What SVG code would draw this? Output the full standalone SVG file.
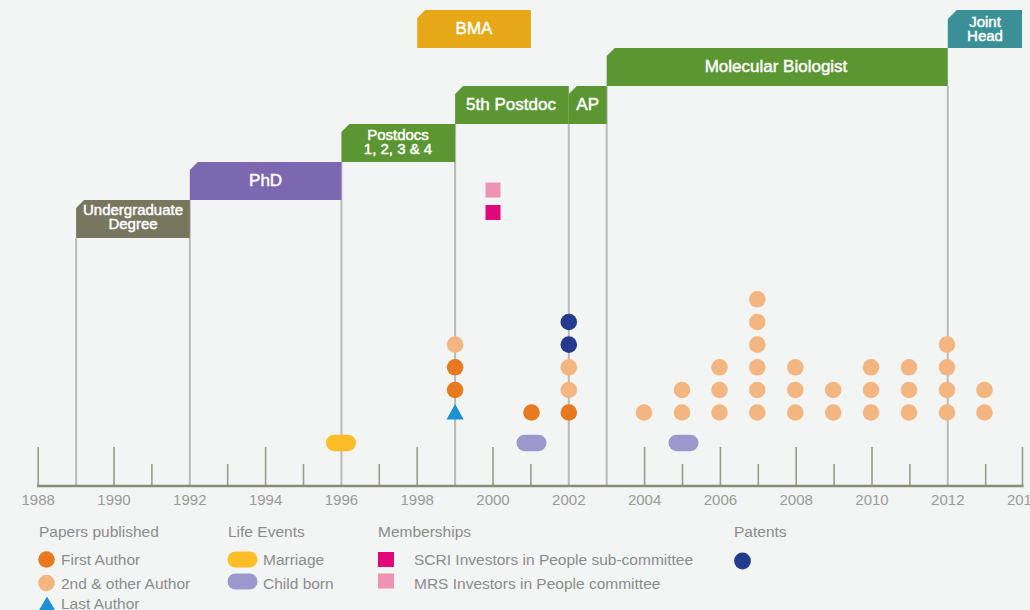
<svg xmlns="http://www.w3.org/2000/svg" width="1030" height="610" viewBox="0 0 1030 610">
<style>
.bg{fill:#f3f4f4}
.bar-t{font-family:"Liberation Sans",Arial,sans-serif;font-size:17px;fill:#ffffff;stroke:#ffffff;stroke-width:0.45;text-anchor:middle}
.bar-t2{font-family:"Liberation Sans",Arial,sans-serif;font-size:15px;fill:#ffffff;stroke:#ffffff;stroke-width:0.45;text-anchor:middle}
.vl{stroke:#b9bbb6;stroke-width:2;fill:none}
.tk{stroke:#9c9c8a;stroke-width:1.6;fill:none}
.axis{stroke:#8a8a76;stroke-width:2.5;fill:none}
.yr{font-family:"Liberation Sans",Arial,sans-serif;font-size:15px;fill:#9a9a9a;text-anchor:middle}
.lg{font-family:"Liberation Sans",Arial,sans-serif;font-size:15.5px;fill:#8c8c8c}
.fa{fill:#e8791f}
.oa{fill:#f4b680}
.pt{fill:#233b8f}
.la{fill:#1b92d4}
.mar{fill:#fdbd27}
.chi{fill:#9b99cc}
.scri{fill:#e0077a}
.mrs{fill:#ee93b4}
</style>
<rect class="bg" x="0" y="0" width="1030" height="610"/>

<g id="connectors">
<line class="vl" x1="76.1" y1="238" x2="76.1" y2="486"/>
<line class="vl" x1="189.8" y1="200" x2="189.8" y2="486"/>
<line class="vl" x1="341.4" y1="162" x2="341.4" y2="486"/>
<line class="vl" x1="455.1" y1="124" x2="455.1" y2="486"/>
<line class="vl" x1="568.8" y1="124" x2="568.8" y2="486"/>
<line class="vl" x1="606.7" y1="86" x2="606.7" y2="486"/>
<line class="vl" x1="947.8" y1="86" x2="947.8" y2="486"/>
</g>

<g id="axis">
<line class="tk" x1="38.2" y1="447" x2="38.2" y2="486"/>
<line class="tk" x1="114.0" y1="447" x2="114.0" y2="486"/>
<line class="tk" x1="151.9" y1="464" x2="151.9" y2="486"/>
<line class="tk" x1="227.7" y1="464" x2="227.7" y2="486"/>
<line class="tk" x1="265.6" y1="447" x2="265.6" y2="486"/>
<line class="tk" x1="303.5" y1="464" x2="303.5" y2="486"/>
<line class="tk" x1="379.3" y1="464" x2="379.3" y2="486"/>
<line class="tk" x1="417.2" y1="447" x2="417.2" y2="486"/>
<line class="tk" x1="493.0" y1="447" x2="493.0" y2="486"/>
<line class="tk" x1="530.9" y1="464" x2="530.9" y2="486"/>
<line class="tk" x1="644.6" y1="447" x2="644.6" y2="486"/>
<line class="tk" x1="682.5" y1="464" x2="682.5" y2="486"/>
<line class="tk" x1="720.4" y1="447" x2="720.4" y2="486"/>
<line class="tk" x1="758.3" y1="464" x2="758.3" y2="486"/>
<line class="tk" x1="796.2" y1="447" x2="796.2" y2="486"/>
<line class="tk" x1="834.1" y1="464" x2="834.1" y2="486"/>
<line class="tk" x1="872.0" y1="447" x2="872.0" y2="486"/>
<line class="tk" x1="909.9" y1="464" x2="909.9" y2="486"/>
<line class="tk" x1="985.7" y1="464" x2="985.7" y2="486"/>
<line class="tk" x1="1022.5" y1="447" x2="1022.5" y2="486"/>
<line class="axis" x1="37" y1="486" x2="1023.5" y2="486"/>
<text class="yr" x="38.2" y="505">1988</text>
<text class="yr" x="114.0" y="505">1990</text>
<text class="yr" x="189.8" y="505">1992</text>
<text class="yr" x="265.6" y="505">1994</text>
<text class="yr" x="341.4" y="505">1996</text>
<text class="yr" x="417.2" y="505">1998</text>
<text class="yr" x="493.0" y="505">2000</text>
<text class="yr" x="568.8" y="505">2002</text>
<text class="yr" x="644.6" y="505">2004</text>
<text class="yr" x="720.4" y="505">2006</text>
<text class="yr" x="796.2" y="505">2008</text>
<text class="yr" x="872.0" y="505">2010</text>
<text class="yr" x="947.8" y="505">2012</text>
<text class="yr" x="1023.6" y="505">2014</text>
</g>

<g id="bar-undergraduate">
<path d="M76.1,238 V208 L84,200 H189.8 V238 Z" fill="#77765f"/>
<text class="bar-t2" x="133" y="215">Undergraduate</text>
<text class="bar-t2" x="133" y="229">Degree</text>
</g>
<g id="bar-phd">
<path d="M189.8,200 V170 L197.8,162 H341.4 V200 Z" fill="#7b68b0"/>
<text class="bar-t" x="265.6" y="185.5">PhD</text>
</g>
<g id="bar-postdocs">
<path d="M341.4,162 V132 L349.4,124 H455.1 V162 Z" fill="#5c9632"/>
<text class="bar-t2" x="398" y="140">Postdocs</text>
<text class="bar-t2" x="398" y="154">1, 2, 3 &amp; 4</text>
</g>
<g id="bar-5th-postdoc">
<path d="M455.1,124 V94 L463.1,86 H568.8 V124 Z" fill="#5c9632"/>
<text class="bar-t" x="511" y="109.5">5th Postdoc</text>
</g>
<g id="bar-ap">
<path d="M568.8,124 V94 L576.8,86 H606.7 V124 Z" fill="#5c9632"/>
<text class="bar-t" x="587.7" y="109.5">AP</text>
</g>
<g id="bar-molecular-biologist">
<path d="M606.7,86 V56 L614.7,48 H947.8 V86 Z" fill="#5c9632"/>
<text class="bar-t" x="776" y="72">Molecular Biologist</text>
</g>
<g id="bar-bma">
<path d="M417.2,48 V18 L425.2,10 H530.9 V48 Z" fill="#e6a817"/>
<text class="bar-t" x="474" y="34">BMA</text>
</g>
<g id="bar-joint-head">
<path d="M947.8,48 V19 L956.8,10 H1022 V48 Z" fill="#3a9096"/>
<text class="bar-t2" x="985" y="27">Joint</text>
<text class="bar-t2" x="985" y="41">Head</text>
</g>

<g id="memberships">
<rect class="mrs" x="485.5" y="182.5" width="15" height="15"/>
<rect class="scri" x="485.5" y="205" width="15" height="15"/>
</g>

<g id="papers">
<polygon class="la" points="455.1,404 446.5,419.5 463.7,419.5"/>
<circle class="fa" cx="455.1" cy="390" r="8.3"/>
<circle class="fa" cx="455.1" cy="367.3" r="8.3"/>
<circle class="oa" cx="455.1" cy="344.6" r="8.3"/>
<circle class="fa" cx="531.5" cy="412.5" r="8.3"/>
<circle class="fa" cx="568.8" cy="412.5" r="8.3"/>
<circle class="oa" cx="568.8" cy="390" r="8.3"/>
<circle class="oa" cx="568.8" cy="367.3" r="8.3"/>
<circle class="oa" cx="644" cy="412.5" r="8.3"/>
<circle class="oa" cx="682" cy="412.5" r="8.3"/>
<circle class="oa" cx="682" cy="390" r="8.3"/>
<circle class="oa" cx="719.5" cy="412.5" r="8.3"/>
<circle class="oa" cx="719.5" cy="390" r="8.3"/>
<circle class="oa" cx="719.5" cy="367.3" r="8.3"/>
<circle class="oa" cx="757.3" cy="412.5" r="8.3"/>
<circle class="oa" cx="757.3" cy="390" r="8.3"/>
<circle class="oa" cx="757.3" cy="367.3" r="8.3"/>
<circle class="oa" cx="757.3" cy="344.6" r="8.3"/>
<circle class="oa" cx="757.3" cy="322" r="8.3"/>
<circle class="oa" cx="757.3" cy="299.3" r="8.3"/>
<circle class="oa" cx="795.3" cy="412.5" r="8.3"/>
<circle class="oa" cx="795.3" cy="390" r="8.3"/>
<circle class="oa" cx="795.3" cy="367.3" r="8.3"/>
<circle class="oa" cx="833.2" cy="412.5" r="8.3"/>
<circle class="oa" cx="833.2" cy="390" r="8.3"/>
<circle class="oa" cx="871" cy="412.5" r="8.3"/>
<circle class="oa" cx="871" cy="390" r="8.3"/>
<circle class="oa" cx="871" cy="367.3" r="8.3"/>
<circle class="oa" cx="909" cy="412.5" r="8.3"/>
<circle class="oa" cx="909" cy="390" r="8.3"/>
<circle class="oa" cx="909" cy="367.3" r="8.3"/>
<circle class="oa" cx="947" cy="412.5" r="8.3"/>
<circle class="oa" cx="947" cy="390" r="8.3"/>
<circle class="oa" cx="947" cy="367.3" r="8.3"/>
<circle class="oa" cx="947" cy="344.6" r="8.3"/>
<circle class="oa" cx="984.5" cy="412.5" r="8.3"/>
<circle class="oa" cx="984.5" cy="390" r="8.3"/>
</g>

<g id="patents">
<circle class="pt" cx="568.8" cy="344.6" r="8.3"/>
<circle class="pt" cx="568.8" cy="322" r="8.3"/>
</g>

<g id="life-events">
<rect class="mar" x="326" y="434.7" width="30" height="16.5" rx="8.25"/>
<rect class="chi" x="516.5" y="434.7" width="30" height="16.5" rx="8.25"/>
<rect class="chi" x="668.5" y="434.7" width="30" height="16.5" rx="8.25"/>
</g>

<g id="legend">
<text class="lg" x="39" y="537">Papers published</text>
<circle class="fa" cx="46.5" cy="559.5" r="8.3"/>
<text class="lg" x="61" y="565">First Author</text>
<circle class="oa" cx="46.5" cy="583" r="8.3"/>
<text class="lg" x="61" y="589">2nd &amp; other Author</text>
<polygon class="la" points="47,596.5 38.5,611 55.5,611"/>
<text class="lg" x="61" y="609">Last Author</text>

<text class="lg" x="228" y="537">Life Events</text>
<rect class="mar" x="227.5" y="551.5" width="30" height="16" rx="8"/>
<text class="lg" x="263" y="565">Marriage</text>
<rect class="chi" x="227.5" y="573.5" width="30" height="16" rx="8"/>
<text class="lg" x="263" y="589">Child born</text>

<text class="lg" x="378" y="537">Memberships</text>
<rect class="scri" x="378" y="552" width="16" height="15"/>
<text class="lg" x="414" y="565">SCRI Investors in People sub-committee</text>
<rect class="mrs" x="378" y="573.5" width="16" height="15"/>
<text class="lg" x="414" y="589">MRS Investors in People committee</text>

<text class="lg" x="734" y="537">Patents</text>
<circle class="pt" cx="742.5" cy="561" r="8.4"/>
</g>
</svg>
